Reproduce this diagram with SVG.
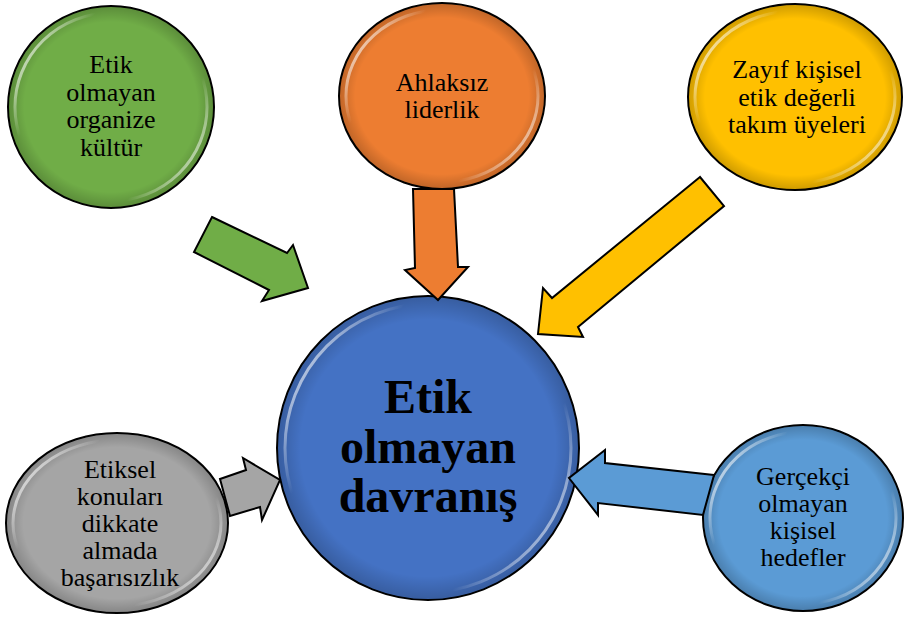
<svg xmlns="http://www.w3.org/2000/svg" width="904" height="617" viewBox="0 0 904 617">
<defs>
<linearGradient id="hl" x1="0" y1="0.2" x2="1" y2="0.8">
<stop offset="0" stop-color="#fff" stop-opacity="0.85"/>
<stop offset="0.22" stop-color="#fff" stop-opacity="0"/>
<stop offset="0.78" stop-color="#fff" stop-opacity="0"/>
<stop offset="1" stop-color="#fff" stop-opacity="0.75"/>
</linearGradient>
<radialGradient id="shade" cx="0.5" cy="0.5" r="0.5">
<stop offset="0.85" stop-color="#000" stop-opacity="0"/>
<stop offset="1" stop-color="#000" stop-opacity="0.18"/>
</radialGradient>
<style>
.node{stroke:#000;stroke-width:2}
.shade{fill:url(#shade);stroke:none}
.gloss{fill:none;stroke:url(#hl);stroke-width:3}
.arrow{stroke:#000;stroke-width:2;stroke-linejoin:miter}
.t{font-family:"Liberation Serif","Times New Roman",serif;font-size:26px;fill:#000;text-anchor:middle}
.tb{font-family:"Liberation Serif","Times New Roman",serif;font-size:48px;font-weight:bold;fill:#000;text-anchor:middle}
</style>
</defs>
<rect width="904" height="617" fill="#fff"/>

<g id="node-green">
<ellipse class="node" cx="111" cy="107" rx="103" ry="101" fill="#70AD47"/>
<ellipse class="shade" cx="111" cy="107" rx="102" ry="100"/>
<ellipse class="gloss" cx="111" cy="107" rx="96" ry="94"/>
<text class="t" x="111" y="73">Etik</text>
<text class="t" x="111" y="101">olmayan</text>
<text class="t" x="111" y="128">organize</text>
<text class="t" x="111" y="156">kültür</text>
</g>

<g id="node-orange">
<ellipse class="node" cx="442" cy="96" rx="103" ry="93" fill="#ED7D31"/>
<ellipse class="shade" cx="442" cy="96" rx="102" ry="92"/>
<ellipse class="gloss" cx="442" cy="96" rx="96" ry="86"/>
<text class="t" x="442" y="91">Ahlaksız</text>
<text class="t" x="442" y="118">liderlik</text>
</g>

<g id="node-yellow">
<ellipse class="node" cx="795" cy="97" rx="107" ry="93" fill="#FFC000"/>
<ellipse class="shade" cx="795" cy="97" rx="106" ry="92"/>
<ellipse class="gloss" cx="795" cy="97" rx="100" ry="86"/>
<text class="t" x="797" y="78">Zayıf kişisel</text>
<text class="t" x="797" y="106">etik değerli</text>
<text class="t" x="797" y="133">takım üyeleri</text>
</g>

<g id="node-gray">
<ellipse class="node" cx="117" cy="523" rx="111" ry="90" fill="#A5A5A5"/>
<ellipse class="shade" cx="117" cy="523" rx="110" ry="89"/>
<ellipse class="gloss" cx="117" cy="523" rx="104" ry="83"/>
<text class="t" x="120" y="478">Etiksel</text>
<text class="t" x="120" y="505">konuları</text>
<text class="t" x="120" y="532">dikkate</text>
<text class="t" x="120" y="559">almada</text>
<text class="t" x="120" y="586">başarısızlık</text>
</g>

<g id="node-lightblue">
<ellipse class="node" cx="803" cy="518" rx="100" ry="93" fill="#5B9BD5"/>
<ellipse class="shade" cx="803" cy="518" rx="99" ry="92"/>
<ellipse class="gloss" cx="803" cy="518" rx="93" ry="86"/>
<text class="t" x="803" y="485">Gerçekçi</text>
<text class="t" x="803" y="512">olmayan</text>
<text class="t" x="803" y="539">kişisel</text>
<text class="t" x="803" y="566">hedefler</text>
</g>

<g id="node-center">
<ellipse class="node" cx="428" cy="448" rx="151" ry="152" fill="#4472C4"/>
<ellipse class="shade" cx="428" cy="448" rx="150" ry="151"/>
<ellipse class="gloss" cx="428" cy="448" rx="143" ry="144"/>
<text class="tb" x="428" y="413">Etik</text>
<text class="tb" x="428" y="463">olmayan</text>
<text class="tb" x="428" y="512">davranış</text>
</g>

<g id="connectors">
<polygon class="arrow" fill="#70AD47" points="212,217 287,253 293,245 308,288 262,301 269,290 194,252"/>
<polygon class="arrow" fill="#ED7D31" points="413,189 415,268 405,270 438,300 468,267 458,267 454,189"/>
<polygon class="arrow" fill="#FFC000" points="700,177 552,298 543,288 538,334 583,337 578,327 724,206"/>
<polygon class="arrow" fill="#A5A5A5" points="220,479 246,470 243,458 280,480 262,520 260,507 230,516"/>
<polygon class="arrow" fill="#5B9BD5" points="714,475 605,463 605,450 569,478 598,515 598,503 703,515"/>
</g>
</svg>
